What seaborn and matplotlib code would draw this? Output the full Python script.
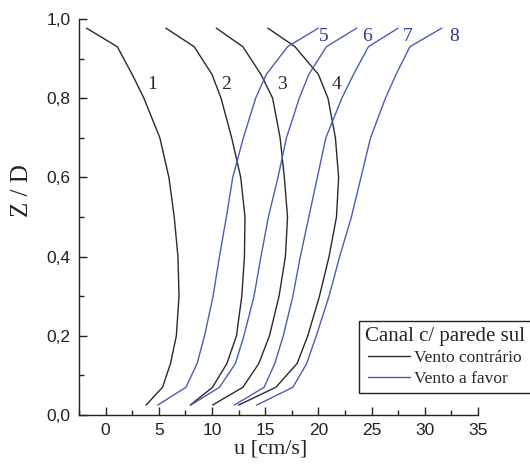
import numpy as np
import pandas as pd
import matplotlib
matplotlib.use("Agg")
import matplotlib.pyplot as plt
import seaborn as sns
from matplotlib.lines import Line2D
from matplotlib.ticker import MultipleLocator, FixedLocator

# ---- data ----
z_levels = [0.025, 0.07, 0.13, 0.2, 0.3, 0.4, 0.5, 0.6, 0.7, 0.8, 0.86, 0.93, 0.977]

u_c1 = [3.8, 5.35, 6.1, 6.65, 6.9, 6.8, 6.45, 5.95, 5.1, 3.6, 2.5, 1.1, -1.8]
u_c2 = [7.95, 10.05, 11.4, 12.3, 12.8, 13.05, 13.1, 12.7, 11.85, 10.85, 10.0, 8.33, 5.66]
u_c3 = [10.05, 12.9, 14.4, 15.4, 16.3, 16.9, 17.1, 16.8, 16.4, 15.7, 14.6, 12.9, 10.4]
u_c4 = [12.5, 16.0, 18.0, 19.0, 20.1, 21.0, 21.7, 21.9, 21.6, 20.9, 20.0, 17.8, 15.25]
u_c5 = [4.9, 7.55, 8.6, 9.3, 10.1, 10.7, 11.35, 11.95, 12.95, 14.1, 15.1, 17.1, 20.0]
u_c6 = [8.0, 10.7, 12.2, 13.0, 13.95, 14.6, 15.3, 16.2, 17.0, 18.2, 19.1, 20.75, 23.6]
u_c7 = [12.1, 14.9, 15.9, 16.7, 17.6, 18.3, 19.1, 19.9, 20.7, 22.2, 23.3, 24.7, 27.5]
u_c8 = [14.2, 17.6, 18.9, 19.8, 21.0, 22.0, 23.1, 24.0, 24.9, 26.3, 27.3, 28.6, 31.6]

contra_curves = {"1": u_c1, "2": u_c2, "3": u_c3, "4": u_c4}
favor_curves = {"5": u_c5, "6": u_c6, "7": u_c7, "8": u_c8}

curve_labels = ["1", "2", "3", "4", "5", "6", "7", "8"]
label_u = [4.4, 11.3, 16.6, 21.7, 20.5, 24.6, 28.4, 32.8]
label_z = [0.835, 0.835, 0.835, 0.835, 0.955, 0.955, 0.955, 0.955]

x_ticks = [0, 5, 10, 15, 20, 25, 30, 35]
y_ticks = [0.0, 0.2, 0.4, 0.6, 0.8, 1.0]
y_tick_labels = ["0,0", "0,2", "0,4", "0,6", "0,8", "1,0"]

legend_title = "Canal c/ parede sul"
legend_names = ["Vento contrário", "Vento a favor"]

BLACK = "#2a2a2a"
BLUE = "#4b5db2"
BLUE_TXT = "#2b3a8c"

# ---- build table ----
rows = []
for name, us in contra_curves.items():
    for u, z in zip(us, z_levels):
        rows.append({"u": u, "z": z, "curve": name, "grupo": legend_names[0]})
for name, us in favor_curves.items():
    for u, z in zip(us, z_levels):
        rows.append({"u": u, "z": z, "curve": name, "grupo": legend_names[1]})
df = pd.DataFrame(rows)

sns.set_style("ticks")
plt.rcParams["font.family"] = ["Liberation Sans", "DejaVu Sans"]

fig = plt.figure(figsize=(5.30, 4.73), dpi=100)
ax = fig.add_axes([79 / 530, 1 - 415 / 473, (478 - 79) / 530, (415 - 19) / 473])

for name in curve_labels:
    sub = df[df["curve"] == name]
    col = BLACK if sub["grupo"].iloc[0] == legend_names[0] else BLUE
    sns.lineplot(data=sub, x="u", y="z", sort=False, estimator=None,
                 color=col, linewidth=1.0, ax=ax, legend=False)

for lab, lu, lz in zip(curve_labels, label_u, label_z):
    col = BLACK if lab in contra_curves else BLUE_TXT
    ax.text(lu, lz, lab, color=col, fontsize=14, family="Liberation Serif",
            ha="center", va="center")

ax.set_xlim(-2.5, 35)
ax.set_ylim(0, 1.0)
ax.xaxis.set_major_locator(FixedLocator(x_ticks))
ax.xaxis.set_minor_locator(MultipleLocator(2.5))
ax.yaxis.set_major_locator(FixedLocator(y_ticks))
ax.yaxis.set_minor_locator(MultipleLocator(0.1))
ax.set_yticklabels(y_tick_labels)
ax.set_xticklabels([str(t) for t in x_ticks])

for s in ["top", "right"]:
    ax.spines[s].set_visible(False)
for s in ["left", "bottom"]:
    ax.spines[s].set_linewidth(1.0)
    ax.spines[s].set_color("#222222")

ax.tick_params(which="major", direction="in", length=6, width=1.0,
               labelsize=12.5, colors="#222222", pad=6)
ax.tick_params(which="minor", direction="in", length=3.5, width=1.0, colors="#222222")
for t in ax.get_xticklabels() + ax.get_yticklabels():
    t.set_fontweight("medium")

ax.set_xlabel("u [cm/s]", family="Liberation Serif", fontsize=16, color="#222222")
ax.set_ylabel("Z / D", family="Liberation Serif", fontsize=18, color="#222222")
ax.xaxis.set_label_coords(0.48, -0.062)
ax.yaxis.set_label_coords(-0.115, 0.568)

handles = [Line2D([], [], color=BLACK, lw=1.0), Line2D([], [], color=BLUE, lw=1.0)]
leg = ax.legend(handles, legend_names, title=legend_title,
                loc="lower left", bbox_to_anchor=(359 / 530, 1 - 393 / 473),
                bbox_transform=fig.transFigure,
                prop={"family": "Liberation Serif", "size": 12.5},
                title_fontproperties={"family": "Liberation Serif", "size": 15},
                frameon=True, fancybox=False, framealpha=1, edgecolor="#222222",
                handlelength=2.4, handletextpad=0.25, borderpad=0.35,
                labelspacing=0.25, borderaxespad=0)
leg.get_frame().set_linewidth(1.0)
ax.grid(False)

fig.savefig("out.png", dpi=100)
